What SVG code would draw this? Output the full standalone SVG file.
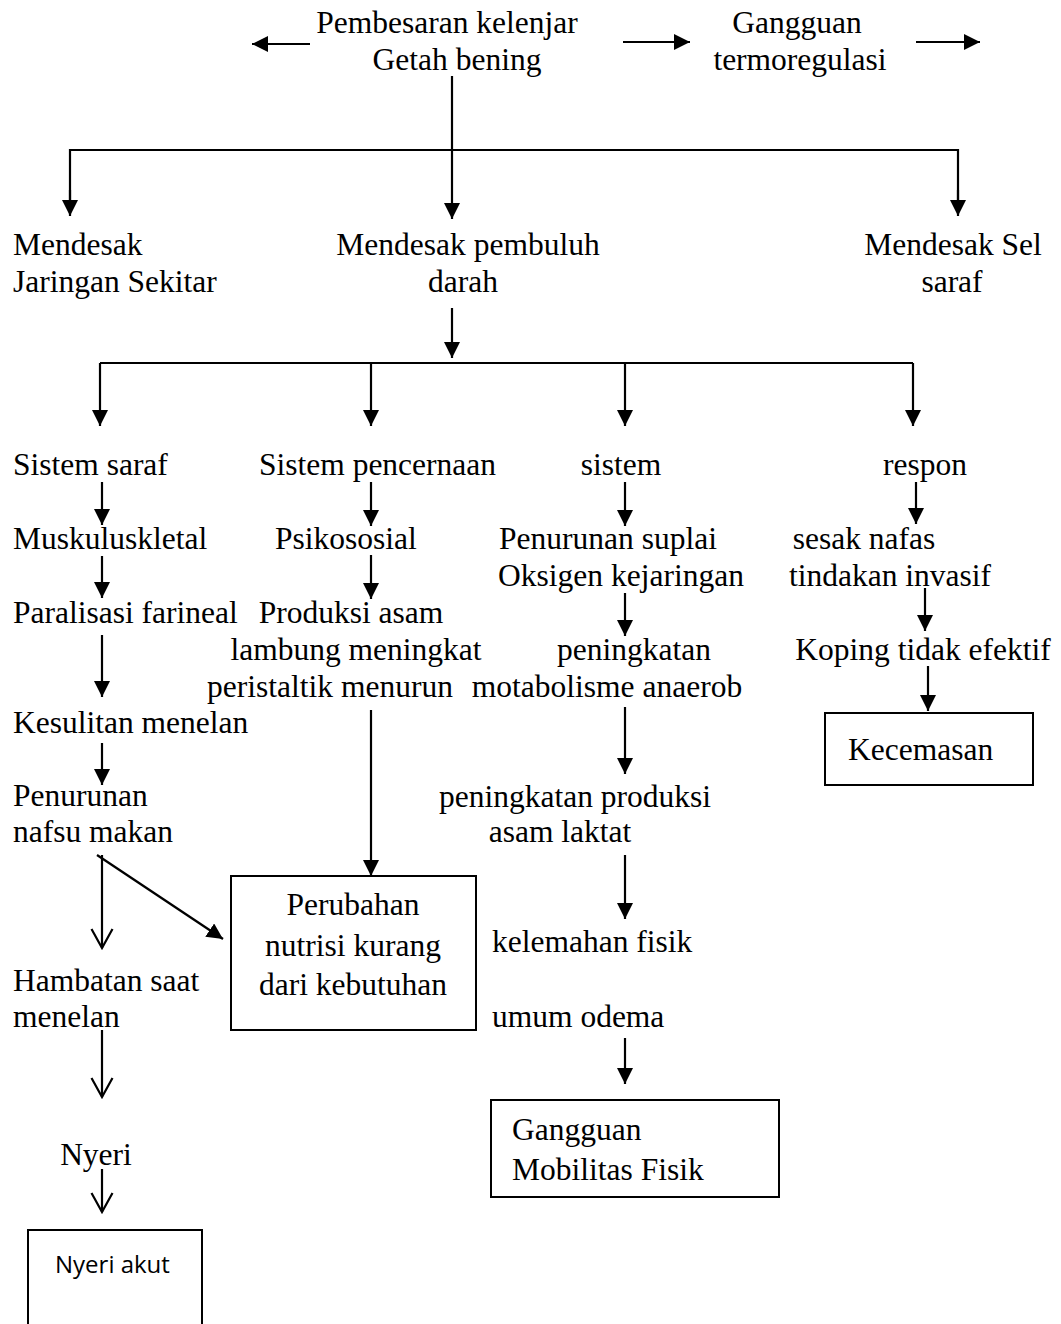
<svg xmlns="http://www.w3.org/2000/svg" width="1061" height="1324" viewBox="0 0 1061 1324">
<style>
text{font-family:"Liberation Serif","Times New Roman",serif;font-size:31.5px;fill:#000}
.m{text-anchor:middle}
.s{font-family:"Open Sans","Noto Sans",sans-serif;font-size:24px}
.ln{stroke:#000;stroke-width:2.2;fill:none}
.box{stroke:#000;stroke-width:2;fill:#fff}
</style>
<defs>
<marker id="a" viewBox="0 0 16 16" refX="16" refY="8" markerWidth="16" markerHeight="16" markerUnits="userSpaceOnUse" orient="auto"><path d="M0,0 L16,8 L0,16 Z" fill="#000"/></marker>
<marker id="v" viewBox="0 0 22 24" refX="20" refY="12" markerWidth="22" markerHeight="24" markerUnits="userSpaceOnUse" orient="auto"><path d="M1,1.5 L20,12 L1,22.5" fill="none" stroke="#000" stroke-width="2.2"/></marker>
</defs>
<rect width="1061" height="1324" fill="#fff"/>
<g id="connectors">
<line class="ln" x1="310" y1="44" x2="252" y2="44" marker-end="url(#a)"/>
<line class="ln" x1="623" y1="42" x2="690" y2="42" marker-end="url(#a)"/>
<line class="ln" x1="916" y1="42" x2="980" y2="42" marker-end="url(#a)"/>
<line class="ln" x1="452" y1="76" x2="452" y2="219" marker-end="url(#a)"/>
<polyline class="ln" points="70,200 70,150 958,150 958,200"/>
<line class="ln" x1="70" y1="190" x2="70" y2="216" marker-end="url(#a)"/>
<line class="ln" x1="958" y1="190" x2="958" y2="216" marker-end="url(#a)"/>
<line class="ln" x1="452" y1="308" x2="452" y2="358" marker-end="url(#a)"/>
<line class="ln" x1="100" y1="363" x2="913" y2="363"/>
<line class="ln" x1="100" y1="363" x2="100" y2="426" marker-end="url(#a)"/>
<line class="ln" x1="371" y1="363" x2="371" y2="426" marker-end="url(#a)"/>
<line class="ln" x1="625" y1="363" x2="625" y2="426" marker-end="url(#a)"/>
<line class="ln" x1="913" y1="363" x2="913" y2="426" marker-end="url(#a)"/>
<line class="ln" x1="102" y1="482" x2="102" y2="525" marker-end="url(#a)"/>
<line class="ln" x1="371" y1="482" x2="371" y2="526" marker-end="url(#a)"/>
<line class="ln" x1="625" y1="482" x2="625" y2="526" marker-end="url(#a)"/>
<line class="ln" x1="916" y1="482" x2="916" y2="524" marker-end="url(#a)"/>
<line class="ln" x1="102" y1="556" x2="102" y2="598" marker-end="url(#a)"/>
<line class="ln" x1="371" y1="555" x2="371" y2="599" marker-end="url(#a)"/>
<line class="ln" x1="625" y1="593" x2="625" y2="636" marker-end="url(#a)"/>
<line class="ln" x1="925" y1="588" x2="925" y2="631" marker-end="url(#a)"/>
<line class="ln" x1="102" y1="635" x2="102" y2="697" marker-end="url(#a)"/>
<line class="ln" x1="928" y1="666" x2="928" y2="711" marker-end="url(#a)"/>
<line class="ln" x1="625" y1="707" x2="625" y2="774" marker-end="url(#a)"/>
<line class="ln" x1="371" y1="710" x2="371" y2="876" marker-end="url(#a)"/>
<line class="ln" x1="102" y1="743" x2="102" y2="785" marker-end="url(#a)"/>
<line class="ln" x1="625" y1="855" x2="625" y2="919" marker-end="url(#a)"/>
<line class="ln" x1="625" y1="1038" x2="625" y2="1084" marker-end="url(#a)"/>
<line class="ln" x1="102" y1="855" x2="102" y2="948" marker-end="url(#v)"/>
<line class="ln" x1="97" y1="855" x2="223" y2="939" marker-end="url(#a)"/>
<line class="ln" x1="102" y1="1030" x2="102" y2="1097" marker-end="url(#v)"/>
<line class="ln" x1="102" y1="1169" x2="102" y2="1212" marker-end="url(#v)"/>
</g>
<g id="n-pembesaran"><text class="m" x="447" y="33">Pembesaran kelenjar</text><text class="m" x="457" y="70">Getah bening</text></g>
<g id="n-gangguan-termo"><text class="m" x="797" y="33">Gangguan</text><text class="m" x="800" y="70">termoregulasi</text></g>
<g id="n-jaringan"><text x="13" y="255">Mendesak</text><text x="13" y="292">Jaringan Sekitar</text></g>
<g id="n-pembuluh"><text class="m" x="468" y="255">Mendesak pembuluh</text><text class="m" x="463" y="292">darah</text></g>
<g id="n-sel-saraf"><text class="m" x="953" y="255">Mendesak Sel</text><text class="m" x="952" y="292">saraf</text></g>
<g id="n-sistem-saraf"><text x="13" y="475">Sistem saraf</text></g>
<g id="n-pencernaan"><text x="259" y="475">Sistem pencernaan</text></g>
<g id="n-sistem"><text class="m" x="621" y="475">sistem</text></g>
<g id="n-respon"><text class="m" x="925" y="475">respon</text></g>
<g id="n-musku"><text x="13" y="549">Muskuluskletal</text></g>
<g id="n-psiko"><text x="275" y="549">Psikososial</text></g>
<g id="n-suplai"><text class="m" x="608" y="549">Penurunan suplai</text><text class="m" x="621" y="586">Oksigen kejaringan</text></g>
<g id="n-sesak"><text class="m" x="864" y="549">sesak nafas</text><text class="m" x="890" y="586">tindakan invasif</text></g>
<g id="n-paralisasi"><text x="13" y="623">Paralisasi farineal</text></g>
<g id="n-produksi"><text class="m" x="351" y="623">Produksi asam</text><text class="m" x="356" y="660">lambung meningkat</text><text class="m" x="330" y="697">peristaltik menurun</text></g>
<g id="n-anaerob"><text class="m" x="634" y="660">peningkatan</text><text class="m" x="607" y="697">motabolisme anaerob</text></g>
<g id="n-koping"><text class="m" x="923" y="660">Koping tidak efektif</text></g>
<g id="n-kesulitan"><text x="13" y="733">Kesulitan menelan</text></g>
<g id="n-kecemasan"><rect class="box" x="825" y="713" width="208" height="72"/><text x="848" y="760">Kecemasan</text></g>
<g id="n-nafsu"><text x="13" y="806">Penurunan</text><text x="13" y="842">nafsu makan</text></g>
<g id="n-laktat"><text class="m" x="575" y="807">peningkatan produksi</text><text class="m" x="560" y="842">asam laktat</text></g>
<g id="n-nutrisi"><rect class="box" x="231" y="876" width="245" height="154"/><text class="m" x="353" y="915">Perubahan</text><text class="m" x="353" y="956">nutrisi kurang</text><text class="m" x="353" y="995">dari kebutuhan</text></g>
<g id="n-kelemahan"><text x="492" y="952">kelemahan fisik</text></g>
<g id="n-odema"><text x="492" y="1027">umum odema</text></g>
<g id="n-hambatan"><text x="13" y="991">Hambatan saat</text><text x="13" y="1027">menelan</text></g>
<g id="n-mobilitas"><rect class="box" x="491" y="1100" width="288" height="97"/><text x="512" y="1140">Gangguan</text><text x="512" y="1180">Mobilitas Fisik</text></g>
<g id="n-nyeri"><text class="m" x="96" y="1165">Nyeri</text></g>
<g id="n-nyeri-akut"><rect class="box" x="28" y="1230" width="174" height="110"/><text class="s" x="55" y="1273">Nyeri akut</text></g>
</svg>
